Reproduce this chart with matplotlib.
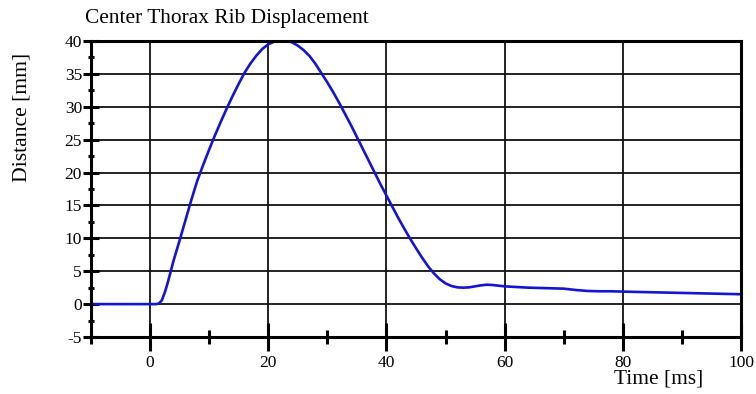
import matplotlib
matplotlib.use("Agg")
import matplotlib.pyplot as plt
from matplotlib.ticker import MultipleLocator

time_ms = [-10, 0, 1, 1.5, 2, 2.5, 3, 3.5, 4, 4.5, 5, 6, 7, 8, 9, 10, 11, 12, 13, 14,
           15, 16, 17, 18, 19, 20, 21, 22, 23, 24, 25, 26, 27, 28, 29, 30, 31, 32, 33,
           34, 35, 36, 37, 38, 39, 40, 41, 42, 43, 44, 45, 46, 47, 48, 49, 50, 51, 52,
           53, 54, 55, 56, 57, 58, 59, 60, 62, 64, 66, 68, 70, 72, 74, 76, 78, 80, 85,
           90, 95, 100]
distance_mm = [0, 0, 0, 0.1, 0.6, 1.8, 3.3, 5.0, 6.7, 8.2, 9.7, 12.8, 15.9, 18.8, 21.2,
               23.5, 25.7, 27.8, 29.8, 31.7, 33.5, 35.2, 36.6, 37.8, 38.8, 39.5, 39.9,
               40.1, 40.1, 39.8, 39.3, 38.6, 37.7, 36.5, 35.1, 33.7, 32.2, 30.6, 28.9,
               27.2, 25.4, 23.6, 21.8, 20.0, 18.2, 16.5, 14.8, 13.1, 11.5, 9.95, 8.5, 7.1,
               5.8, 4.7, 3.8, 3.15, 2.75, 2.55, 2.5, 2.55, 2.7, 2.85, 2.95, 2.9, 2.8, 2.7,
               2.6, 2.5, 2.45, 2.4, 2.35, 2.15, 2.0, 1.95, 1.95, 1.9, 1.8, 1.7, 1.6, 1.5]

x_ticks = [0, 20, 40, 60, 80, 100]
y_ticks = [-5, 0, 5, 10, 15, 20, 25, 30, 35, 40]

plt.rcParams['font.family'] = ['Liberation Serif', 'DejaVu Serif']
plt.rcParams['axes.unicode_minus'] = False

fig = plt.figure(figsize=(7.56, 3.94), dpi=100)
ax = fig.add_axes([91/756, 1 - 337/394, (741 - 91)/756, (337 - 41)/394])

ax.plot(time_ms, distance_mm, color='#1414d2', lw=1.9, zorder=3, solid_capstyle='round',
        solid_joinstyle='round')

ax.set_xlim(-10, 100)
ax.set_ylim(-5, 40)
ax.set_xticks(x_ticks)
ax.set_yticks(y_ticks)
ax.xaxis.set_minor_locator(MultipleLocator(10))
ax.yaxis.set_minor_locator(MultipleLocator(2.5))

ax.grid(True, which='major', color='#111111', lw=1.3, zorder=1)

for s in ax.spines.values():
    s.set_linewidth(2.2)
    s.set_color('black')
    s.set_zorder(4)

ax.tick_params(axis='x', which='major', direction='inout', length=19.5, width=2.2,
               labelsize=12.5, pad=3)
ax.tick_params(axis='x', which='minor', direction='inout', length=9.5, width=2.2)
ax.tick_params(axis='y', which='major', direction='inout', length=11, width=2.2,
               labelsize=12.5, pad=1)
ax.tick_params(axis='y', which='minor', direction='inout', length=4, width=2.2)

fig.text(85/756, 1 - 18/394, 'Center Thorax Rib Displacement', fontsize=15.4,
         ha='left', va='center')
fig.text(22/756, 1 - 117/394, 'Distance [mm]', fontsize=15.6, rotation=90,
         ha='center', va='center')
fig.text(659/756, 1 - 379/394, 'Time [ms]', fontsize=15.4, ha='center', va='center')

fig.savefig('out.png', dpi=100)
